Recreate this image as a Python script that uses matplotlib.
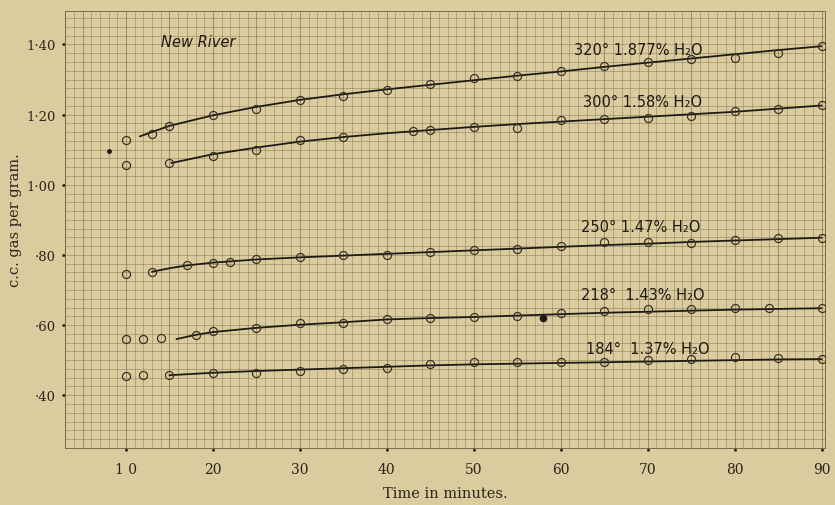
import numpy as np
import matplotlib
matplotlib.use('Agg')
import matplotlib.pyplot as plt

# New River sample: gas given off (c.c. per gram) against time, at five temperatures
labels = ['320° 1.877% H₂O', '300° 1.58% H₂O', '250° 1.47% H₂O', '218°  1.43% H₂O', '184°  1.37% H₂O']

# observed points
t_320 = [13, 15, 20, 25, 30, 35, 40, 45, 50, 55, 60, 65, 70, 75, 80, 85, 90]
v_320 = [1.146, 1.167, 1.198, 1.217, 1.243, 1.252, 1.269, 1.286, 1.303, 1.311, 1.325, 1.338, 1.349, 1.359, 1.361, 1.376, 1.395]
t_300 = [15, 20, 25, 30, 35, 43, 45, 50, 55, 60, 65, 70, 75, 80, 85, 90]
v_300 = [1.062, 1.081, 1.100, 1.127, 1.137, 1.152, 1.157, 1.164, 1.162, 1.184, 1.188, 1.191, 1.195, 1.209, 1.216, 1.226]
t_250 = [10, 13, 17, 20, 22, 25, 30, 35, 40, 45, 50, 55, 60, 65, 70, 75, 80, 85, 90]
v_250 = [0.746, 0.752, 0.771, 0.778, 0.779, 0.789, 0.793, 0.799, 0.799, 0.809, 0.814, 0.816, 0.826, 0.838, 0.836, 0.833, 0.843, 0.847, 0.849]
t_218 = [10, 12, 14, 18, 20, 25, 30, 35, 40, 45, 50, 55, 60, 65, 70, 75, 80, 84, 90]
v_218 = [0.560, 0.560, 0.562, 0.573, 0.583, 0.592, 0.605, 0.607, 0.616, 0.621, 0.624, 0.627, 0.635, 0.640, 0.646, 0.645, 0.648, 0.648, 0.648]
t_184 = [10, 12, 15, 20, 25, 30, 35, 40, 45, 50, 55, 60, 65, 70, 75, 80, 85, 90]
v_184 = [0.455, 0.457, 0.457, 0.462, 0.464, 0.469, 0.476, 0.479, 0.488, 0.495, 0.495, 0.495, 0.495, 0.500, 0.503, 0.508, 0.507, 0.503]
# stray early readings at 10 min
t_early = [10, 10]
v_early = [1.127, 1.055]

# hand-drawn curves
lt_320 = [11.6, 15, 20, 25, 30, 35, 40, 45, 50, 55, 60, 65, 70, 75, 80, 85, 90]
lv_320 = [1.138, 1.168, 1.198, 1.222, 1.242, 1.258, 1.272, 1.285, 1.298, 1.311, 1.323, 1.336, 1.348, 1.360, 1.372, 1.384, 1.395]
lt_300 = [15.2, 20, 25, 30, 35, 40, 45, 50, 55, 60, 65, 70, 75, 80, 85, 90]
lv_300 = [1.062, 1.087, 1.106, 1.123, 1.136, 1.147, 1.156, 1.165, 1.173, 1.180, 1.187, 1.194, 1.201, 1.208, 1.217, 1.226]
lt_250 = [13, 15, 17, 20, 25, 30, 35, 40, 45, 50, 55, 60, 65, 70, 75, 80, 85, 90]
lv_250 = [0.752, 0.762, 0.770, 0.778, 0.787, 0.793, 0.798, 0.803, 0.808, 0.813, 0.818, 0.823, 0.828, 0.832, 0.837, 0.841, 0.845, 0.849]
lt_218 = [15.8, 18, 20, 25, 30, 35, 40, 45, 50, 55, 60, 65, 70, 75, 80, 85, 90]
lv_218 = [0.560, 0.572, 0.580, 0.592, 0.601, 0.608, 0.616, 0.620, 0.623, 0.627, 0.631, 0.635, 0.638, 0.641, 0.644, 0.646, 0.648]
lt_184 = [15, 20, 25, 30, 35, 40, 45, 50, 55, 60, 65, 70, 75, 80, 85, 90]
lv_184 = [0.457, 0.464, 0.469, 0.473, 0.477, 0.481, 0.485, 0.488, 0.490, 0.492, 0.494, 0.496, 0.498, 0.500, 0.502, 0.503]

x_ticks = [10, 20, 30, 40, 50, 60, 70, 80, 90]
x_ticklabels = ['1 0', '20', '30', '40', '50', '60', '70', '80', '90']
y_ticks = [0.40, 0.60, 0.80, 1.00, 1.20, 1.40]
y_ticklabels = ['·40', '·60', '·80', '1·00', '1·20', '1·40']

paper = '#dbcc9f'
ink = '#1e1a14'
grid_c = '#7a6b4a'

fig = plt.figure(figsize=(8.35, 5.06), dpi=100, facecolor=paper)
ax = fig.add_axes([0.078, 0.113, 0.910, 0.863], facecolor=paper)
ax.set_xlim(3, 90.4)
ax.set_ylim(0.25, 1.495)

# graph paper
for gx in np.arange(3, 91, 1):
    lw = 0.75 if gx % 5 == 0 else 0.5
    ax.axvline(gx, color=grid_c, lw=lw, alpha=0.6, zorder=1)
for gy in np.arange(0.25, 1.5, 0.025):
    ax.axhline(gy, color=grid_c, lw=0.5, alpha=0.6, zorder=1)
for s in ax.spines.values():
    s.set_color(grid_c)
    s.set_linewidth(0.7)

curves = [(lt_320, lv_320), (lt_300, lv_300), (lt_250, lv_250), (lt_218, lv_218), (lt_184, lv_184)]
points = [(t_320, v_320), (t_300, v_300), (t_250, v_250), (t_218, v_218), (t_184, v_184)]
for (lt, lv), (t, v) in zip(curves, points):
    ax.plot(lt, lv, color=ink, lw=1.3, zorder=3, solid_capstyle='round')
    ax.plot(t, v, 'o', ms=5.8, mfc='none', mec='#3a3226', mew=0.9, zorder=4)
ax.plot(t_early, v_early, 'o', ms=5.8, mfc='none', mec='#3a3226', mew=0.9, zorder=4)
ax.plot([8.1], [1.097], 'o', ms=2.5, color=ink, zorder=4)
ax.plot([58], [0.619], 'o', ms=4.5, color=ink, zorder=4)

hand = ['DejaVu Sans']
label_x = [68.9, 69.4, 69.2, 69.5, 70.0]
label_y = [1.386, 1.236, 0.881, 0.686, 0.533]
for txt, xp, yp in zip(labels, label_x, label_y):
    ax.text(xp, yp, txt, ha='center', va='center', fontsize=10.5, color=ink,
            family=hand, zorder=5)
ax.text(18.3, 1.409, 'New River', ha='center', va='center', fontsize=10.5, color=ink,
        family=hand, style='italic', zorder=5)

ax.set_xticks(x_ticks)
ax.set_xticklabels(x_ticklabels, family='serif', fontsize=10, color='#2a251c')
ax.set_yticks(y_ticks)
ax.set_yticklabels(y_ticklabels, family='serif', fontsize=9.5, color='#2a251c')
ax.tick_params(axis='both', length=2.5, width=1.8, color=ink, direction='out', pad=4)
ax.tick_params(axis='x', pad=8)

ax.set_xlabel('Time in minutes.', family='serif', fontsize=10.5, color='#2a251c', labelpad=7)
ax.set_ylabel('c.c. gas per gram.', family='serif', fontsize=10.5, color='#2a251c')
ax.yaxis.set_label_coords(-0.057, 0.524)

fig.savefig('out.png', dpi=100, facecolor=paper)
